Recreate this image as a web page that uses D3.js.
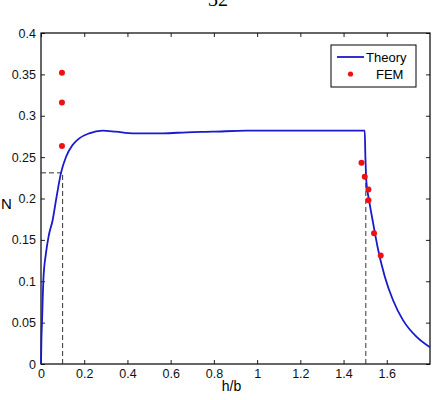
<!DOCTYPE html>
<html>
<head>
<meta charset="utf-8">
<script src="https://d3js.org/d3.v7.min.js"></script>
<style>
  body { margin: 0; background: #fff; }
  text { font-family: "Liberation Sans", Arial, sans-serif; }
</style>
</head>
<body>
<svg id="chart"></svg>
<script>
// theory curve
const theoryH = [0, 0.002, 0.005, 0.011, 0.023, 0.035, 0.054, 0.072, 0.0925, 0.116, 0.146, 0.177, 0.223, 0.285, 0.347,
  0.425, 0.564, 0.675, 0.795, 0.95, 1.2, 1.498, 1.501, 1.504, 1.506, 1.518, 1.537, 1.56, 1.591, 1.629, 1.675, 1.737, 1.8];
const theoryN = [0, 0.03, 0.053, 0.1015, 0.134, 0.154, 0.174, 0.202, 0.231, 0.2505, 0.2647, 0.2727, 0.2788, 0.282, 0.2807,
  0.2788, 0.2788, 0.28, 0.2807, 0.282, 0.282, 0.282, 0.25, 0.228, 0.219, 0.198, 0.17, 0.138, 0.1055, 0.077, 0.053, 0.033, 0.0202];
// FEM points
const femH = [0.097, 0.097, 0.097, 1.483, 1.498, 1.515, 1.515, 1.541, 1.572];
const femN = [0.352, 0.316, 0.2634, 0.2433, 0.2264, 0.211, 0.198, 0.158, 0.131];
// dashed guides
const guides = [{ h: 0.1, n: 0.231, horiz: true }, { h: 1.503, n: 0.228, horiz: false }];
const xTicks = [0, 0.2, 0.4, 0.6, 0.8, 1, 1.2, 1.4, 1.6];
const yTicks = [0, 0.05, 0.1, 0.15, 0.2, 0.25, 0.3, 0.35, 0.4];

const W = 437, H = 400;
const margin = { top: 33, right: 7, bottom: 36, left: 41 };
const width = W - margin.left - margin.right;
const height = H - margin.top - margin.bottom;

const svg = d3.select("#chart").attr("width", W).attr("height", H);

// page number, cropped at the top like the scan
svg.append("text")
  .attr("x", 218).attr("y", 6)
  .attr("text-anchor", "middle")
  .style("font-family", "'Liberation Serif', 'DejaVu Serif', serif")
  .style("font-size", "20px")
  .text("32");

const g = svg.append("g").attr("transform", `translate(${margin.left},${margin.top})`);

const x = d3.scaleLinear().domain([0, 1.8]).range([0, width]);
const y = d3.scaleLinear().domain([0, 0.4]).range([height, 0]);

// inward ticks on all four sides, matlab style
const tickLen = 4;
const fmt = (d) => (d === 0 ? "0" : String(d));
const xAx = g.append("g").attr("transform", `translate(0,${height})`)
  .call(d3.axisBottom(x).tickValues(xTicks).tickSize(-tickLen).tickPadding(6).tickFormat(fmt));
const yAx = g.append("g")
  .call(d3.axisLeft(y).tickValues(yTicks).tickSize(-tickLen).tickPadding(5).tickFormat(fmt));
g.append("g").call(d3.axisTop(x).tickValues(xTicks).tickSize(-tickLen).tickFormat(""));
g.append("g").attr("transform", `translate(${width},0)`)
  .call(d3.axisRight(y).tickValues(yTicks).tickSize(-tickLen).tickFormat(""));
g.selectAll(".domain").remove();
g.selectAll(".tick line").attr("stroke", "#222");
g.selectAll(".tick text").style("font-size", "12.5px").attr("fill", "#111");
xAx.selectAll(".tick text").attr("dy", "0.6em");

g.append("rect")
  .attr("width", width).attr("height", height)
  .attr("fill", "none").attr("stroke", "#000").attr("stroke-width", 1.2);

// dashed guides
guides.forEach((d) => {
  g.append("line")
    .attr("x1", x(d.h)).attr("x2", x(d.h))
    .attr("y1", y(0)).attr("y2", y(d.n))
    .attr("stroke", "#333").attr("stroke-dasharray", "5,3");
  if (d.horiz) {
    g.append("line")
      .attr("x1", x(0)).attr("x2", x(d.h))
      .attr("y1", y(d.n)).attr("y2", y(d.n))
      .attr("stroke", "#333").attr("stroke-dasharray", "5,3");
  }
});

const theory = theoryH.map((h, i) => ({ h, n: theoryN[i] }));
g.append("path")
  .datum(theory)
  .attr("fill", "none")
  .attr("stroke", "#1a1acc")
  .attr("stroke-width", 1.8)
  .attr("stroke-linejoin", "round")
  .attr("d", d3.line().x((d) => x(d.h)).y((d) => y(d.n)).curve(d3.curveMonotoneX));

g.selectAll("circle.fem")
  .data(femH.map((h, i) => ({ h, n: femN[i] })))
  .enter()
  .append("circle")
  .attr("class", "fem")
  .attr("cx", (d) => x(d.h))
  .attr("cy", (d) => y(d.n))
  .attr("r", 3)
  .attr("fill", "#ee1111");

// legend
const lg = svg.append("g").attr("transform", "translate(331,45)");
lg.append("rect").attr("width", 85).attr("height", 42)
  .attr("fill", "#fff").attr("stroke", "#000").attr("stroke-width", 1);
lg.append("line").attr("x1", 6).attr("x2", 33).attr("y1", 12).attr("y2", 12)
  .attr("stroke", "#1a1acc").attr("stroke-width", 1.8);
lg.append("text").attr("x", 35).attr("y", 17).style("font-size", "13px").text("Theory");
lg.append("circle").attr("cx", 19.5).attr("cy", 29).attr("r", 2.6).attr("fill", "#ee1111");
lg.append("text").attr("x", 45).attr("y", 34).style("font-size", "13px").text("FEM");

svg.append("text")
  .attr("x", margin.left + x(0.9) - 4).attr("y", 391)
  .attr("text-anchor", "middle").style("font-size", "14px")
  .text("h/b");
svg.append("text")
  .attr("x", 1).attr("y", 209)
  .style("font-size", "15px")
  .text("N");
</script>
</body>
</html>
